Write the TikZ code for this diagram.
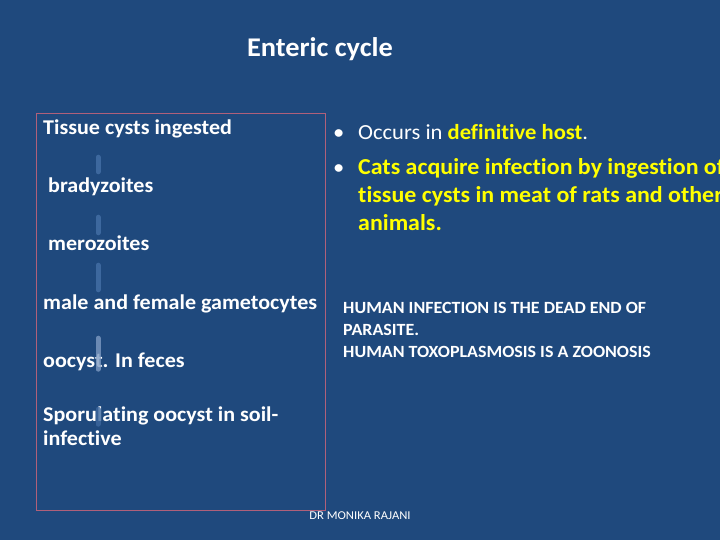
\documentclass[tikz,border=0pt]{standalone}
\usepackage{fontspec}
\setmainfont{Carlito}[FakeStretch=1.05,Ligatures=NoCommon]
\usetikzlibrary{arrows.meta,positioning}
\definecolor{slideblue}{HTML}{1F497D}
\definecolor{flowblue}{HTML}{3D689E}
\definecolor{flowlite}{HTML}{7F9BC2}
\definecolor{boxred}{HTML}{B0607A}
\definecolor{hiyellow}{HTML}{FFFF00}

\begin{document}
\begin{tikzpicture}[x=1pt,y=-1pt,
    stage/.style={anchor=base west,inner sep=0pt,align=left,text=white,font=\fontsize{21}{23.3}\selectfont\bfseries,text height=15pt,text depth=5pt},
    flow/.style={draw=flowblue,line width=5pt,line cap=round},
    point/.style={anchor=base west,inner sep=0pt,align=left,font=\fontsize{21.5}{27.9}\selectfont},
    note/.style={anchor=base west,inner sep=0pt,align=left,text=white,font=\fontsize{17.1}{22}\selectfont\bfseries}]
        \clip (0,0) rectangle (720,540);
        \fill[slideblue] (0,0) rectangle (720,540);
        \node[anchor=base,inner sep=0pt,text=white,font=\fontsize{27}{30}\selectfont\bfseries] (title) at (320,57) {Enteric cycle};
        \draw[boxred,line width=0.8pt] (36,113) rectangle (325,510);
        % life cycle stages (multi-line nodes sit on their last baseline)
        \node[stage] (tissue) at (43,135) {Tissue cysts ingested};
        \node[stage] (brady) at (48,192.7) {bradyzoites};
        \node[stage] (mero) at (48,250.7) {merozoites};
        \node[stage] (gameto) at (43,309.3) {male and female gametocytes};
        \node[stage] (oocyst) at (43,367) {oocyst. In feces};
        \node[stage] (sporu) at (43,445) {Sporulating oocyst in soil-\\infective};
        \coordinate (ax) at (98,0);
        \draw[flow] ([yshift=-17pt]tissue.south -| ax) -- ([yshift=5.7pt]brady.north -| ax);
        \draw[flow] ([yshift=-19.3pt]brady.south -| ax) -- ([yshift=2.7pt]mero.north -| ax);
        \draw[flow] ([yshift=-9.3pt]mero.south -| ax) -- ([yshift=4.3pt]gameto.north -| ax);
        \draw[flow,draw=flowlite,opacity=0.8] ([yshift=-23.7pt]gameto.south -| ax) -- ([yshift=3pt]oocyst.south -| ax);
        \draw[flow,opacity=0.8] ([yshift=-37pt]oocyst.south -| ax) -- ([yshift=-52pt]oocyst.south -| ax);
        % definitive host notes
        \node[point,text=white] (dot1) at (333,140) {\textbullet};
        \node[point,text=white] (occurs) at (358,140) {Occurs in \textcolor{hiyellow}{\bfseries definitive host}.};
        \node[point,text=white] (dot2) at (333,175) {\textbullet};
        \node[point,text=hiyellow,font=\fontsize{22.8}{27.9}\selectfont\bfseries] (cats) at (358,230.7) {Cats acquire infection by ingestion of\\tissue cysts in meat of rats and other\\animals.};
        \node[note] (human) at (343,357.3) {HUMAN INFECTION IS THE DEAD END OF\\PARASITE.\\HUMAN TOXOPLASMOSIS IS A ZOONOSIS};
        \node[anchor=base,inner sep=0pt,text=white,font=\fontsize{12}{14}\selectfont] (author) at (360,519) {DR MONIKA RAJANI};
\end{tikzpicture}
\end{document}
